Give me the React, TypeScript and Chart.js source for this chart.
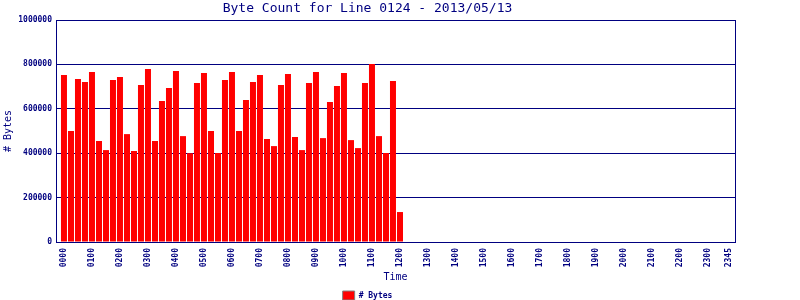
import { useEffect, useRef } from 'react';
import { Chart, registerables } from 'chart.js';

Chart.register(...registerables);

const TITLE = 'Byte Count for Line 0124 - 2013/05/13';
const SERIES_LABEL = '# Bytes';
const X_TITLE = 'Time';
const Y_TITLE = '# Bytes';

const HOURS = ['00','01','02','03','04','05','06','07','08','09','10','11','12','13','14','15','16','17','18','19','20','21','22','23'];
const MINUTES = ['00', '15', '30', '45'];
const SLOT_LABELS: string[] = [];
HOURS.forEach((h) => MINUTES.forEach((m) => SLOT_LABELS.push(h + m)));

// bytes per 15-minute slot, 0000 .. 1200
const BYTES = [
  752000, 500000, 734000, 721000, 766000, 455000, 414000, 730000,
  743000, 486000, 410000, 707000, 779000, 455000, 635000, 694000,
  770000, 477000, 400000, 716000, 761000, 500000, 401000, 730000,
  766000, 500000, 640000, 721000, 752000, 464000, 432000, 707000,
  757000, 473000, 414000, 716000, 766000, 468000, 631000, 703000,
  761000, 459000, 423000, 716000, 802000, 477000, 401000, 725000,
  135000,
];

const LABELED_SLOTS = [0, 4, 8, 12, 16, 20, 24, 28, 32, 36, 40, 44, 48, 52, 56, 60, 64, 68, 72, 76, 80, 84, 88, 92, 95];
const Y_MIN = 0;
const Y_MAX = 1000000;
const Y_STEP = 200000;

const NAVY = '#000080';
const MONO = '"DejaVu Sans Mono", "Liberation Mono", monospace';
const PAD_BOTTOM = -10;

const frame = {
  id: 'frame',
  afterDatasetsDraw(chart: any) {
    const { ctx, chartArea: a } = chart;
    ctx.save();
    ctx.strokeStyle = NAVY;
    ctx.lineWidth = 1;
    ctx.strokeRect(Math.round(a.left) + 0.5, Math.round(a.top) + 0.5, Math.round(a.right - a.left), Math.round(a.bottom - a.top));
    ctx.restore();
  },
};

export default function App() {
  const ref = useRef<HTMLCanvasElement>(null);
  useEffect(() => {
    const canvas = ref.current;
    if (!canvas) return;
    const chart = new Chart(canvas, {
      type: 'bar',
      data: {
        datasets: [
          {
            label: SERIES_LABEL,
            data: BYTES.map((y, i) => ({ x: i, y })),
            backgroundColor: '#ff0000',
            borderWidth: 0,
            barThickness: 6,
            inflateAmount: 0,
          },
        ],
      },
      plugins: [frame],
      options: {
        animation: false,
        responsive: false,
        devicePixelRatio: 1,
        layout: { padding: { left: 0, right: 65, top: 0, bottom: PAD_BOTTOM } },
        plugins: {
          title: {
            display: true,
            text: TITLE,
            color: NAVY,
            font: { family: MONO, size: 13, weight: 'normal' },
            padding: { top: 1, bottom: 3.4 },
          },
          legend: {
            display: true,
            position: 'bottom',
            labels: {
              boxWidth: 12,
              boxHeight: 9,
              padding: 2,
              color: NAVY,
              font: { family: MONO, size: 8, weight: 'bold' },
              generateLabels: () => [
                {
                  text: SERIES_LABEL,
                  fillStyle: '#ff0000',
                  strokeStyle: '#808080',
                  lineWidth: 1,
                  fontColor: NAVY,
                  hidden: false,
                  datasetIndex: 0,
                },
              ],
            },
          },
          tooltip: { enabled: false },
        },
        scales: {
          x: {
            type: 'linear',
            offset: false,
            min: -1.14,
            max: 95.86,
            grid: { display: false, drawTicks: false, offset: false },
            border: { display: true, color: NAVY },
            afterBuildTicks: (scale: any) => {
              scale.ticks = LABELED_SLOTS.map((v) => ({ value: v }));
            },
            afterFit: (scale: any) => {
              const lh = scale.chart.legend ? scale.chart.legend.height : 0;
              scale.height = 300 - PAD_BOTTOM - 242 - lh;
            },
            ticks: {
              autoSkip: false,
              minRotation: 90,
              maxRotation: 90,
              padding: 6,
              color: NAVY,
              font: { family: MONO, size: 8, weight: 'bold' },
              callback: (v: any) => SLOT_LABELS[v as number] ?? '',
            },
            title: {
              display: true,
              text: X_TITLE,
              color: NAVY,
              font: { family: MONO, size: 10 },
              padding: { top: 0, bottom: 6 },
            },
          },
          y: {
            min: Y_MIN,
            max: Y_MAX,
            grid: { color: NAVY, lineWidth: 1, drawTicks: false },
            border: { display: true, color: NAVY },
            afterFit: (scale: any) => {
              scale.width = 56;
            },
            ticks: {
              stepSize: Y_STEP,
              padding: 4,
              color: NAVY,
              font: { family: MONO, size: 8, weight: 'bold' },
              callback: (v: any) => String(v),
            },
            title: {
              display: true,
              text: Y_TITLE,
              color: NAVY,
              font: { family: MONO, size: 10 },
              padding: { top: 2, bottom: 0 },
            },
          },
        },
      },
    });
    return () => chart.destroy();
  }, []);
  return (
    <div style={{ position: 'fixed', left: 0, top: 0, width: 800, height: 300, background: '#fff' }}>
      <canvas ref={ref} width={800} height={300} style={{ width: 800, height: 300 }} />
    </div>
  );
}
